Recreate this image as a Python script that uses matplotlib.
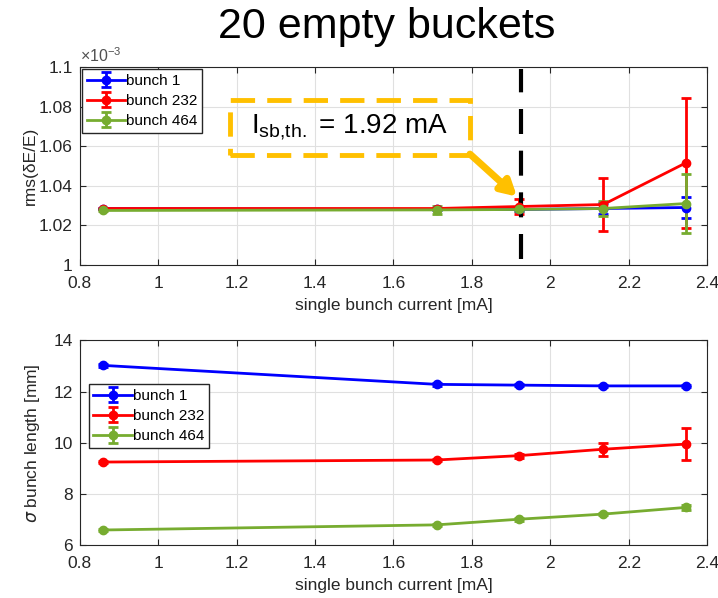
import matplotlib.pyplot as plt
from matplotlib.patches import Rectangle

plt.rcParams['font.family'] = ['Liberation Sans', 'DejaVu Sans']

# single bunch current [mA]
current = [0.86, 1.71, 1.92, 2.135, 2.345]

# energy spread rms(dE/E), in units of 1e-3
spread_b1 = [1.0285, 1.028, 1.028, 1.0285, 1.029]
spread_b1_err = [0.0005, 0.0005, 0.0008, 0.003, 0.0055]
spread_b232 = [1.0285, 1.0285, 1.0295, 1.0305, 1.0515]
spread_b232_err = [0.0005, 0.0005, 0.004, 0.0135, 0.033]
spread_b464 = [1.0275, 1.0278, 1.028, 1.0285, 1.031]
spread_b464_err = [0.0005, 0.002, 0.001, 0.004, 0.015]

# bunch length [mm]
length_b1 = [13.02, 12.28, 12.25, 12.22, 12.22]
length_b1_err = [0.05, 0.05, 0.05, 0.05, 0.05]
length_b232 = [9.25, 9.33, 9.5, 9.75, 9.95]
length_b232_err = [0.03, 0.05, 0.08, 0.25, 0.62]
length_b464 = [6.6, 6.8, 7.02, 7.22, 7.48]
length_b464_err = [0.03, 0.03, 0.05, 0.05, 0.1]

labels = ['bunch 1', 'bunch 232', 'bunch 464']
colors = ['#0000ff', '#ff0000', '#77ac30']
i_th = 1.925
axcol = '#262626'

fig = plt.figure(figsize=(7.18, 5.98), dpi=100)
fig.text(0.538, 0.955, '20 empty buckets', ha='center', va='center', fontsize=31)

ax1 = fig.add_axes([0.111, 0.557, 0.874, 0.331])
ax2 = fig.add_axes([0.111, 0.088, 0.874, 0.343])


def draw(ax, ys, errs):
    for y, e, c, lab in zip(ys, errs, colors, labels):
        ax.errorbar(current, y, yerr=e, color=c, lw=2, marker='o', ms=6,
                    mfc=c, mec=c, capsize=3.5, capthick=2, elinewidth=2, label=lab)
    ax.set_xlim(0.8, 2.4)
    ax.set_xticks([0.8, 1, 1.2, 1.4, 1.6, 1.8, 2, 2.2, 2.4])
    ax.set_xticklabels(['0.8', '1', '1.2', '1.4', '1.6', '1.8', '2', '2.2', '2.4'])
    ax.grid(True, color='#e0e0e0', lw=0.8)
    ax.set_axisbelow(True)
    ax.tick_params(labelsize=12.5, colors=axcol, direction='in', length=4,
                   right=True, top=True)
    ax.tick_params(axis='x', pad=8)
    ax.tick_params(axis='y', pad=5)
    for s in ax.spines.values():
        s.set_color(axcol)
    ax.set_xlabel('single bunch current [mA]', fontsize=12.5, color=axcol, labelpad=5)


def legend(ax, **kw):
    ax.legend(fontsize=11, frameon=True, fancybox=False, edgecolor=axcol,
              framealpha=1, handlelength=2.5, borderpad=0.3, labelspacing=0.4,
              handletextpad=0.1, **kw)


draw(ax1, [spread_b1, spread_b232, spread_b464],
     [spread_b1_err, spread_b232_err, spread_b464_err])
ax1.set_ylim(1.0, 1.1)
ax1.set_yticks([1.0, 1.02, 1.04, 1.06, 1.08, 1.1])
ax1.set_yticklabels(['1', '1.02', '1.04', '1.06', '1.08', '1.1'])
ax1.set_ylabel('rms(δE/E)', fontsize=12.5, color=axcol, labelpad=1)
ax1.text(0.0, 1.01, r'$\mathregular{\times10^{-3}}$', transform=ax1.transAxes,
         fontsize=11.5, color='#505050', va='bottom', ha='left')
legend(ax1, loc='upper left', borderaxespad=0.15)

# threshold line and annotation
ax1.plot([i_th, i_th], [1.003, 1.099], color='black', lw=3, ls=(0, (6, 4)))
ax1.add_patch(Rectangle((1.183, 1.0555), 0.612, 0.0278, fill=False,
                        edgecolor='#ffc000', lw=3.5, ls=(0, (5, 2.5))))
ax1.text(1.489, 1.0694, r'I$_{\mathregular{sb{,}th.}}$ = 1.92 mA', ha='center',
         va='center', fontsize=20)
ax1.annotate('', xy=(1.915, 1.0345), xytext=(1.795, 1.0560),
             arrowprops=dict(arrowstyle='-|>,head_length=0.9,head_width=0.5',
                             color='#ffc000', lw=5, shrinkA=0, shrinkB=0))

draw(ax2, [length_b1, length_b232, length_b464],
     [length_b1_err, length_b232_err, length_b464_err])
ax2.set_ylim(6, 14)
ax2.set_yticks([6, 8, 10, 12, 14])
ax2.set_ylabel(r'$\sigma$ bunch length [mm]', fontsize=12.5, color=axcol, labelpad=8)
legend(ax2, loc='center left', bbox_to_anchor=(0.0, 0.63), borderaxespad=0.6)

fig.savefig('out.png', dpi=100)
